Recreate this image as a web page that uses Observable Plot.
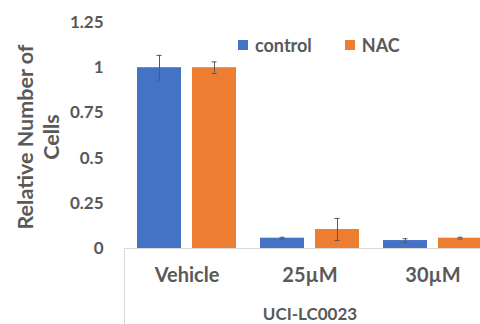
<!DOCTYPE html>
<html><head><meta charset="utf-8">
<script src="https://cdn.jsdelivr.net/npm/d3@7"></script>
<script src="https://cdn.jsdelivr.net/npm/@observablehq/plot@0.6"></script>
<style>
html,body{margin:0;padding:0;background:#fff;overflow:hidden;width:480px;height:324px;}
#wrap{position:relative;width:480px;height:324px;overflow:hidden;font-family:Lato,"Open Sans",sans-serif;font-weight:700;color:#595959;}
#wrap svg{max-width:none !important;}
#legend{position:absolute;left:238px;top:34px;display:flex;align-items:center;font-size:18px;line-height:22px;}
#legend .sw{display:inline-block;width:10px;height:10px;margin-right:7px;}
#legend .item{display:flex;align-items:center;margin-right:33px;}
</style></head>
<body><div id="wrap"><div id="legend"></div></div>
<script>
const groups = ["Vehicle", "25µM", "30µM"];
const series = ["control", "NAC"];
const colors = ["#4472C4", "#ED7D31"];
const controlValues = [1.0, 0.057, 0.044];
const controlErrors = [0.068, 0.005, 0.01];
const nacValues = [1.0, 0.105, 0.057];
const nacErrors = [0.032, 0.061, 0.005];
const yTicks = [0, 0.25, 0.5, 0.75, 1, 1.25];
const outerLabel = "UCI-LC0023";
const yTitle = ["Relative Number of", "Cells"];

const data = [];
groups.forEach((g, i) => {
  data.push({group: g, series: "control", value: controlValues[i], err: controlErrors[i]});
  data.push({group: g, series: "NAC", value: nacValues[i], err: nacErrors[i]});
});

const marginLeft = 124, marginTop = 22, marginBottom = 76, height = 324;
const font = "Lato, 'Open Sans', sans-serif";

const chart = Plot.plot({
  width: 500, height, marginLeft, marginRight: 6, marginTop, marginBottom,
  style: {fontFamily: font, fontWeight: 700, fontSize: "16px", color: "#595959", background: "#fff", maxWidth: "none"},
  fx: {domain: groups, padding: 0},
  x: {domain: series, padding: 0.2, axis: null},
  y: {domain: [0, 1.25], ticks: yTicks},
  color: {domain: series, range: colors},
  marks: [
    Plot.axisY({ticks: yTicks, tickSize: 0, tickPadding: 22, label: null, fontSize: 17, tickFormat: d3.format("")}),
    Plot.axisFx({anchor: "bottom", tickSize: 0, tickPadding: 19, fontSize: 20, label: null}),
    Plot.axisFx({anchor: "bottom", tickSize: 0, ticks: [], fontSize: 17, label: outerLabel, labelAnchor: "center", labelOffset: 71}),
    Plot.barY(data, {fx: "group", x: "series", y: "value", fill: "series"}),
    Plot.ruleY([0], {stroke: "#d9d9d9", strokeWidth: 1}),
    Plot.ruleX(data, {fx: "group", x: "series", y1: d => d.value - d.err, y2: d => d.value + d.err, stroke: "#595959", strokeWidth: 1}),
    Plot.tickY(data, {fx: "group", x: "series", y: d => d.value + d.err, stroke: "#595959", insetLeft: 19.5, insetRight: 19.5}),
    Plot.tickY(data, {fx: "group", x: "series", y: d => d.value - d.err, stroke: "#595959", insetLeft: 19.5, insetRight: 19.5})
  ]
});
chart.style.position = "absolute";
chart.style.left = "0px";
chart.style.top = "0px";
chart.style.maxWidth = "none";
const wrap = document.getElementById("wrap");
wrap.insertBefore(chart, wrap.firstChild);

const svg = d3.select(chart);
// category axis vertical border
svg.append("line").attr("x1", marginLeft + 0.5).attr("x2", marginLeft + 0.5)
  .attr("y1", height - marginBottom).attr("y2", height).attr("stroke", "#d9d9d9");
// y title (two lines)
const yMid = 137;
yTitle.forEach((t, i) => {
  svg.append("text").attr("transform", `translate(${27 + i * 26},${yMid}) rotate(-90)`)
    .attr("text-anchor", "middle").attr("dominant-baseline", "middle")
    .attr("font-family", font).attr("font-weight", 700).attr("font-size", 21.5)
    .attr("fill", "#595959").text(t);
});

const legend = document.getElementById("legend");
series.forEach((s, i) => {
  const item = document.createElement("span");
  item.className = "item";
  item.innerHTML = `<span class="sw" style="background:${colors[i]}"></span>${s}`;
  legend.appendChild(item);
});
</script></body></html>
